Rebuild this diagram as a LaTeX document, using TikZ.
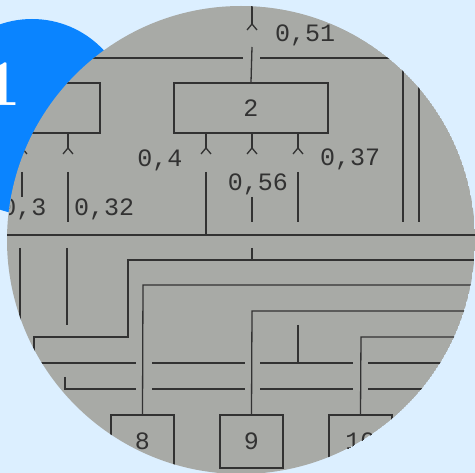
\documentclass[tikz,border=0pt]{standalone}
\usepackage{fontspec}
\newfontfamily\typefont{Liberation Mono}
\newcommand\tw{\typefont\fontsize{25}{25}\selectfont}
\definecolor{pagebg}{RGB}{220,239,255}
\definecolor{badgeblue}{RGB}{10,132,255}
\definecolor{paper}{RGB}{168,170,166}
\definecolor{ink}{RGB}{50,50,50}
\begin{document}
\begin{tikzpicture}[x=1pt,y=-1pt,
  wire/.style={draw=ink,line width=1.3pt},
  unit/.style={draw=ink,line width=1.3pt,minimum width=63pt,minimum height=53pt,inner sep=0pt,font=\tw,text=ink},
  val/.style={font=\tw,text=ink,inner sep=0pt},
  plug/.pic={\draw[wire] (-5,6) -- (0,0) -- (5,6);}]
\useasboundingbox[fill=pagebg] (0,0) rectangle (475,473);
\fill[badgeblue] (32,117) circle (98);
\node[text=white,font=\bfseries\fontsize{65}{65}\selectfont,inner sep=0pt] (badge) at (3,84) {1};
\begin{scope}
\clip (241,240) circle (234);
\fill[paper] (241,240) circle (234);
% units
\node[unit,minimum width=140pt,minimum height=50pt] (box1) at (30,108) {};
\node[unit,minimum width=154pt,minimum height=50pt] (box2) at (251,108) {2};
\node[unit] (box8) at (142.5,441.5) {8};
\node[unit] (box9) at (251.5,441.5) {9};
\node[unit] (box10) at (360.5,441.5) {10};
% plugs
\foreach \x in {22,68} {\coordinate (p) at (\x,148); \draw[wire] (p |- box1.south) -- (p) pic{plug};}
\foreach \x in {206,252,298} {\coordinate (p) at (\x,148); \draw[wire] (p |- box2.south) -- (p) pic{plug};}
\coordinate (top) at (252,24);
\draw[wire] (252,0) -- (top) pic{plug};
\draw[wire] (252,47) -- (box2.north);
\node[val,anchor=west] (v051) at (275,35) {0,51};
\node[val] (v04) at (160,160) {0,4};
\node[val,anchor=west] (v037) at (320,159) {0,37};
\node[val] (v056) at (258,184) {0,56};
\node[val] (v03) at (24,209) {0,3};
\node[val,anchor=west] (v032) at (74,209) {0,32};
% lines
\draw[wire] (80,58) -- (243,58) (260,58) -- (400,58);
\draw[wire] (0,235) -- (480,235);
\draw[wire] (22,172) -- (22,197) (68,172) -- (68,222) (206,172) -- (206,235)
  (252,197) -- (252,222) (298,172) -- (298,222);
\draw[wire] (403,50) -- (403,222) (419,50) -- (419,222);
\draw[wire] (20,248) -- (20,330) (67,248) -- (67,325) (252,248) -- (252,260);
\draw[wire] (34,360) -- (34,337) -- (128,337) -- (128,260) -- (480,260);
\draw[wire] (box8.north) -- (143,285) -- (480,285);
\draw[wire] (box9.north) -- (252,311) -- (480,311);
\draw[wire] (box10.north) -- (361,337) -- (480,337);
\draw[wire] (298,325) -- (298,363);
\draw[wire] (30,363) -- (136,363) (152,363) -- (245,363) (260,363) -- (353,363) (368,363) -- (480,363);
\draw[wire] (65,377) -- (65,389) -- (136,389) (152,389) -- (245,389) (260,389) -- (353,389) (368,389) -- (480,389);
\end{scope}
\end{tikzpicture}
\end{document}
